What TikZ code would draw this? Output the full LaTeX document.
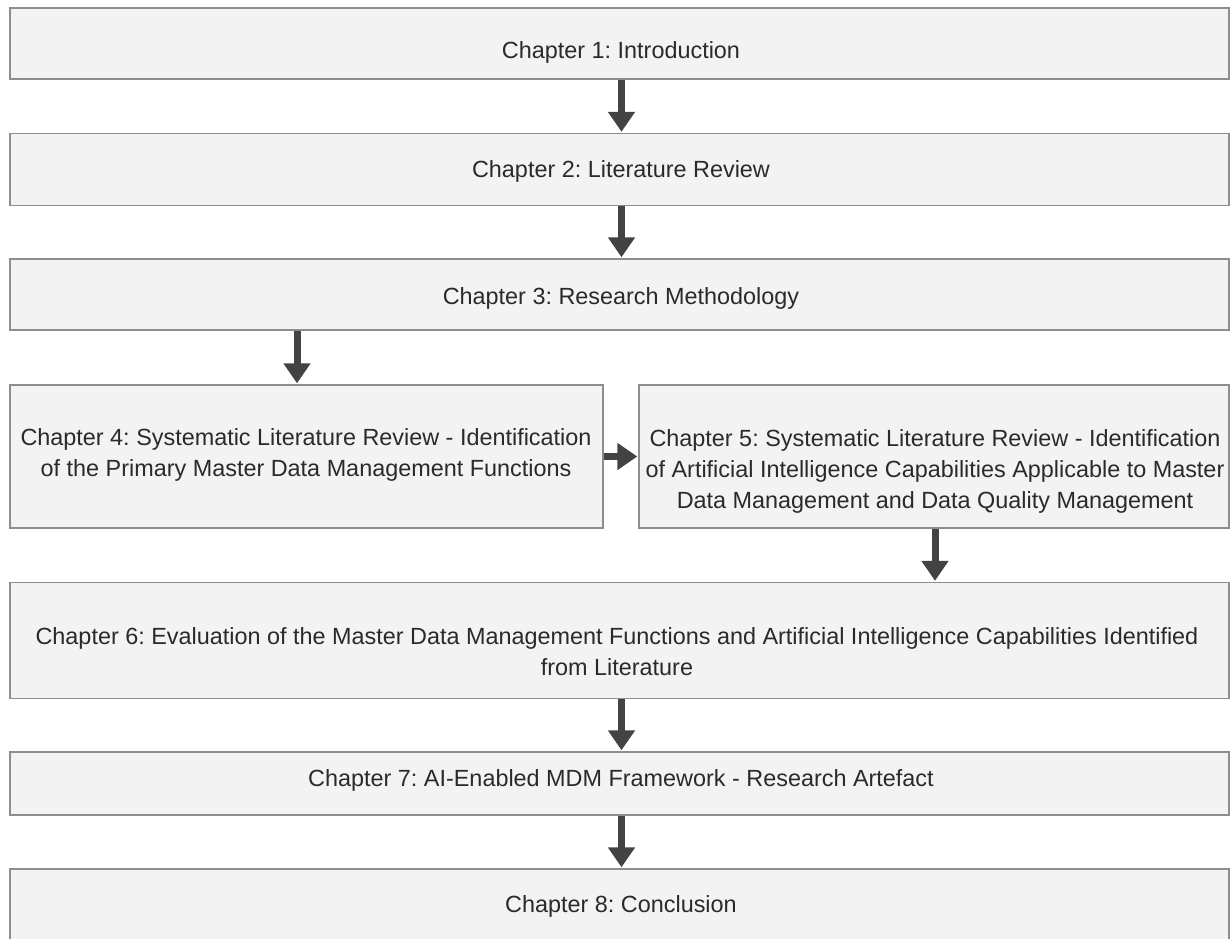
\documentclass[tikz,border=0pt]{standalone}
\usepackage{fontspec}
\setmainfont{Liberation Sans}
\usetikzlibrary{arrows.meta}
\definecolor{boxfill}{HTML}{F3F3F3}
\definecolor{boxline}{HTML}{8E8E8E}
\definecolor{arrowgrey}{HTML}{434343}
\definecolor{txt}{HTML}{2A2A2A}
\tikzset{
  chapbox/.style={draw=boxline, line width=1.4pt, fill=boxfill, rectangle, inner sep=0pt},
  chaptext/.style={anchor=base, align=center, text=txt, inner sep=0pt,
    font=\fontsize{23.4}{31}\selectfont},
  flow/.style={draw=arrowgrey, line width=7pt,
    -{Triangle[width=26pt,length=20pt]}, arrowgrey, shorten >=1pt},
}
\frenchspacing
\begin{document}
\begin{tikzpicture}[x=1pt,y=-1pt]
\useasboundingbox (0,0) rectangle (1231,938);

% chapter boxes (corners given in picture coordinates)
\node[chapbox, minimum width=1219pt, minimum height=71pt]  (b1) at (619.5,43.5) {};
\node[chapbox, minimum width=1219pt, minimum height=72pt]  (b2) at (619.5,169.5) {};
\node[chapbox, minimum width=1219pt, minimum height=71pt]  (b3) at (619.5,294.5) {};
\node[chapbox, minimum width=593pt,  minimum height=143pt] (b4) at (306.5,456.5) {};
\node[chapbox, minimum width=590pt,  minimum height=143pt] (b5) at (934,456.5) {};
\node[chapbox, minimum width=1219pt, minimum height=116pt] (b6) at (619.5,640.5) {};
\node[chapbox, minimum width=1219pt, minimum height=63pt]  (b7) at (619.5,783.5) {};
\node[chapbox, minimum width=1219pt, minimum height=90pt]  (b8) at (619.5,914) {};

% chapter titles (base = baseline of the last line)
\node[chaptext] (t1) at (621,58)  {Chapter 1: Introduction};
\node[chaptext] (t2) at (621,177) {Chapter 2: Literature Review};
\node[chaptext] (t3) at (621,304) {Chapter 3: Research Methodology};
\node[chaptext] (t4) at (306,476)
  {Chapter 4: Systematic Literature Review - Identification\\of the Primary Master Data Management Functions};
\node[chaptext] (t5) at (935,508)
  {Chapter 5: Systematic Literature Review - Identification\\of Artificial Intelligence Capabilities Applicable to Master\\Data Management and Data Quality Management};
\node[chaptext] (t6) at (617,675)
  {Chapter 6: Evaluation of the Master Data Management Functions and Artificial Intelligence Capabilities Identified\\from Literature};
\node[chaptext] (t7) at (621,786) {Chapter 7: AI-Enabled MDM Framework - Research Artefact};
\node[chaptext] (t8) at (621,912) {Chapter 8: Conclusion};

% connectors
\coordinate (c12) at (621.5,0);
\coordinate (c34) at (297,0);
\coordinate (c56) at (935,0);
\draw[flow] (b1.south -| c12) -- (b2.north -| c12);
\draw[flow] (b2.south -| c12) -- (b3.north -| c12);
\draw[flow] (b3.south -| c34) -- (b4.north -| c34);
\draw[flow] (b4.east) -- (b5.west);
\draw[flow] (b5.south -| c56) -- (b6.north -| c56);
\draw[flow] (b6.south -| c12) -- (b7.north -| c12);
\draw[flow] (b7.south -| c12) -- (b8.north -| c12);
\end{tikzpicture}
\end{document}
